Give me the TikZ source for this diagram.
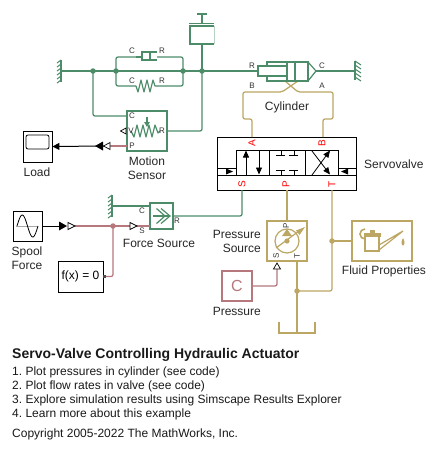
\documentclass[tikz,border=0pt]{standalone}
\usepackage{fontspec}
\setmainfont{Liberation Sans}
\usetikzlibrary{arrows.meta,calc,shadows}
\definecolor{mech}{RGB}{76,140,104}
\definecolor{hyd}{RGB}{188,166,100}
\definecolor{sig}{RGB}{182,120,124}
\definecolor{porttxt}{RGB}{50,50,50}
\frenchspacing
\tikzset{
  x=1pt,y=-1pt,
  mechline/.style={draw=mech,line width=1.25pt,rounded corners=2pt},
  hydline/.style={draw=hyd,line width=1.25pt,rounded corners=2pt},
  sigline/.style={draw=sig,line width=1.25pt,rounded corners=2pt},
  mechbox/.style={draw=mech,line width=1.4pt,fill=white,inner sep=0pt},
  hydbox/.style={draw=hyd,line width=1.4pt,fill=white,inner sep=0pt},
  sigbox/.style={draw=sig,line width=1.4pt,fill=white,inner sep=0pt},
  blockbox/.style={draw=black,line width=.9pt,fill=white,inner sep=0pt,
    drop shadow={shadow xshift=1.2pt,shadow yshift=-1.2pt,opacity=.35,fill=black}},
  lab/.style={font=\fontsize{12}{13}\selectfont,text=black!85,inner sep=0pt,align=center},
  plab/.style={font=\fontsize{8}{9}\selectfont,text=porttxt,inner sep=0pt},
  redlab/.style={font=\fontsize{10}{11}\selectfont,text=red,inner sep=0pt,rotate=90},
  capt/.style={font=\fontsize{12}{13}\selectfont,text=black!90,inner sep=0pt,anchor=west},
  dotm/.style={circle,fill=mech,inner sep=0pt,minimum size=5.5pt},
  doth/.style={circle,fill=hyd,inner sep=0pt,minimum size=5.5pt},
  dots/.style={circle,fill=sig,inner sep=0pt,minimum size=5.5pt},
  sym/.style={draw=mech,line width=1.2pt},
  hsym/.style={draw=hyd,line width=1.2pt},
  bsym/.style={draw=black,line width=.8pt},
}
\begin{document}
\begin{tikzpicture}
\useasboundingbox (0,0) rectangle (437,453);
% ---- free points
\coordinate (wallL) at (61,71);
\coordinate (wallR) at (355,71);
\coordinate (wallF) at (112,206);
\coordinate (cylR) at (258,71);
\coordinate (cylC) at (316,71);
\coordinate (tank) at (297,333);
% ---- blocks
\node[mechbox,minimum width=40pt,minimum height=40pt] (sensor) at (147,131) {};
\node[mechbox,minimum width=23pt,minimum height=26pt] (force) at (161.5,216) {};
\node[blockbox,minimum width=29pt,minimum height=31pt] (load) at (37.5,146.5) {};
\node[blockbox,minimum width=29pt,minimum height=30pt] (spool) at (27.5,226) {};
\node[blockbox,minimum width=45pt,minimum height=31pt,font=\fontsize{12}{13}\selectfont] (fx) at (80.5,276.5) {f(x) = 0};
\node[draw=black,line width=.9pt,fill=white,inner sep=0pt,minimum width=139pt,minimum height=53pt] (valve) at (286.5,163.5) {};
\node[hydbox,minimum width=40pt,minimum height=40pt] (psrc) at (287,241) {};
\node[hydbox,minimum width=60pt,minimum height=40pt] (fluid) at (382,241) {};
\node[sigbox,minimum width=30pt,minimum height=30pt,font=\fontsize{16}{17}\selectfont,text=sig] (pconst) at (237,286) {C};
% ---- mechanical connectors
\coordinate (j1) at (93,71);
\coordinate (j2) at (116,71);
\coordinate (j3) at (183,71);
\coordinate (j4) at (202,71);
\coordinate (j5) at (113,226);
\coordinate (j6) at (332,241);
\coordinate (j7) at (297,291);
\draw[mechline] (wallL) -- (cylR);
\draw[mechline] (j2) |- (136,57);
\draw[mechline] (j2) |- (136,86);
\draw[mechline] (j3) |- (157,57);
\draw[mechline] (j3) |- (157,86);
\draw[mechline] (j1) |- (sensor.west |- 0,116);
\draw[mechline] (sensor.east) -| (j4);
\draw[mechline] (cylC) -- (wallR);
\draw[mechline] (wallF) -- (force.west |- wallF);
\draw[mechline] (force.east) -| (242,190);
% ---- hydraulic connectors
\draw[hydline] (252,137) -- (252,119) -| (243,92) -- (282,92) -- (298,81);
\draw[hydline] (323,137) -- (323,119) -| (333,92) -- (298,92) -- (285,81);
\draw[hydline] (287,190) -- (psrc.north);
\draw[hydline] (332,190) -- (332,291) -- (j7);
\draw[hydline] (j6) -- (fluid.west);
\draw[hydline] (297,261) -- (tank);
% ---- signal connectors
\draw[sigline] (75,226) -- (150,226);
\draw[sigline] (fx.east) -| (j5);
\draw[sigline] (pconst.east) -| (277,269);
\draw[sigline] (110,146) -- (127,146);
\draw[draw=black,line width=1pt,-{Triangle[length=7pt,width=7pt]}] (104,146) -- (load.east);
\draw[draw=black,line width=1pt] (spool.east) -- (60,226);
% ---- junction dots
\node[dotm] (d1) at (j1) {};
\node[dotm] (d2) at (j2) {};
\node[dotm] (d3) at (j3) {};
\node[dotm] (d4) at (j4) {};
\node[dots] (d5) at (j5) {};
\node[doth] (d6) at (j6) {};
\node[doth] (d7) at (j7) {};
% ---- black arrowheads and open ports
\fill (95,146) -- (103,141.5) -- (103,150.5) -- cycle;
\fill (67,226) -- (59,221.5) -- (59,230.5) -- cycle;
\draw[black,fill=white,line width=.7pt] (103.5,146) -- (110,142.5) -- (110,149.5) -- cycle;
\draw[black,fill=white,line width=.7pt] (75,226) -- (68,222.5) -- (68,229.5) -- cycle;
\draw[black,fill=white,line width=.7pt] (137,226) -- (130,222.5) -- (130,229.5) -- cycle;
\draw[black,fill=white,line width=.7pt] (120.5,131) -- (126,128) -- (126,134) -- cycle;
\draw[black,fill=white,line width=.7pt] (277,263) -- (273.5,269) -- (280.5,269) -- cycle;
\fill[black!70] (103,275) rectangle (105.5,278);
% ---- walls
\draw[sym] (61,60) -- (61,82);
\foreach \y in {60,64,...,80} \draw[mech,line width=1pt] (61,\y) -- (57,\y+3);
\draw[sym] (355,61) -- (355,80);
\foreach \y in {61,65,...,77} \draw[mech,line width=1pt] (355,\y) -- (361,\y+4);
\draw[sym] (112,195) -- (112,217);
\foreach \y in {195,199,...,215} \draw[mech,line width=1pt] (112,\y) -- (108,\y+3);
% ---- damper, spring
\draw[sym] (136,57) -- (142,57);
\draw[sym,fill=white] (142,52) rectangle (150,60);
\draw[sym] (157,52) -- (150,52) -- (150,60) -- (157,60);
\draw[sym,line join=round] (136,86) -- (138,92) -- (141,80) -- (144,92) -- (147,80) -- (150,92) -- (153,80) -- (155,86) -- (157,86);
% ---- mass
\draw[sym] (197,14) -- (207,14);
\draw[sym] (202,14) -- (202,23.5);
\draw[sym] (189,23.5) -- (214,23.5);
\draw[sym] (214,26) -- (190,26) -- (190,44) -- (214,44);
\draw[mech!40,line width=.8pt] (214,26) -- (214,44);
\draw[mechline] (202,44) -- (j4);
% ---- cylinder
\draw[sym,fill=white] (267,62) rectangle (308,81);
\draw[sym,fill=white] (258,66) rectangle (287,76);
\draw[sym] (287,62) -- (287,81);
\draw[sym] (295,62) -- (295,81);
\draw[sym] (308,62) -- (316,71) -- (308,81);
% ---- motion sensor icon
\draw[sym,line join=round] (131,131) -- (134,137) -- (137,125) -- (140,137) -- (143,125) -- (146,137) -- (149,125) -- (152,137) -- (155,125) -- (158,133) -- (160,131);
\draw[mech,line width=1.2pt,-{Triangle[length=5pt,width=5.5pt]}] (147,117) -- (147,127);
% ---- force source icon
\draw[sym] (153,216) -- (169,216);
\draw[sym] (161,208.5) -- (170,216) -- (161,223.5);
\draw[sym] (156.5,208.5) -- (165,216) -- (156.5,223.5);
% ---- scope and sine icons
\draw[black,line width=.8pt,rounded corners=2pt] (26,135) rectangle (49,149);
\draw[black!35,line width=.8pt] (16,226) -- (38,226);
\draw[black,line width=.8pt,smooth,domain=0:1,samples=30] plot ({17+21*\x},{226-11*sin(360*\x)});
% ---- valve internals
\draw[bsym] (217,175) -- (356,175);
\draw[bsym] (236,175) -- (236,150) -- (338,150) -- (338,175);
\draw[bsym] (269,150) -- (269,175);
\draw[bsym] (305,150) -- (305,175);
\draw[bsym] (217,168) -- (236,168);
\draw[bsym] (338,168) -- (356,168);
\fill (226,168.5) -- (233,171.5) -- (226,174.5) -- cycle;
\fill (348,168.5) -- (341,171.5) -- (348,174.5) -- cycle;
\draw[bsym,-{Triangle[length=7pt,width=6pt]}] (246,175) -- (246,150.5);
\draw[bsym,-{Triangle[length=7pt,width=6pt]}] (259,150) -- (259,174.5);
\draw[bsym] (281,150) -- (281,155) (276,155) -- (285,155);
\draw[bsym] (294,150) -- (294,155) (289,155) -- (298,155);
\draw[bsym] (281,175) -- (281,170.5) (276,170.5) -- (285,170.5);
\draw[bsym] (294,175) -- (294,170.5) (289,170.5) -- (298,170.5);
\draw[bsym,-{Triangle[length=7pt,width=6pt]}] (312,175) -- (330,150.5);
\draw[bsym,-{Triangle[length=7pt,width=6pt]}] (312,151) -- (330,174.5);
% ---- pump icon
\draw[hsym] (287,241) circle (12);
\fill[hyd] (287,229) -- (282,236) -- (292,236) -- cycle;
\draw[hsym] (276,248) -- (299,231);
\fill[hyd] (305,227) -- (296,230.5) -- (299.5,235) -- cycle;
\fill[hyd] (287,241) circle (2.6);
% ---- oil can icon
\draw[hsym] (365,236) rectangle (379,251);
\fill[hyd] (364,233) rectangle (381,236.5);
\fill[hyd] (370,230) rectangle (375,233);
\draw[hyd,line width=1.6pt] (365,239) arc[start angle=90,end angle=270,radius=5];
\draw[hsym] (379,245) -- (403,231) -- (379,250);
\fill[hyd] (403,238) .. controls (405,241) and (405,245) .. (403,245.5) .. controls (401,245) and (401,241) .. (403,238) -- cycle;
% ---- tank
\draw[hsym] (279,322) -- (279,333) -- (315,333) -- (315,322);
% ---- port labels
\node[plab] (lc1) at (132,51) {C};
\node[plab] (lr1) at (162,51) {R};
\node[plab] (lc2) at (132,81) {C};
\node[plab] (lr2) at (162,81) {R};
\node[plab] (lc3) at (132,116) {C};
\node[plab] (lv3) at (131,131) {V};
\node[plab] (lr3) at (162,131) {R};
\node[plab] (lp3) at (132,146) {P};
\node[plab] (lr4) at (252,66) {R};
\node[plab] (lc4) at (322,66) {C};
\node[plab] (lb4) at (252,86) {B};
\node[plab] (la4) at (322,86) {A};
\node[plab] (lc5) at (142,211) {C};
\node[plab] (ls5) at (142,231) {S};
\node[plab] (lr5) at (177,221) {R};
\node[plab,rotate=90] (lp6) at (286,225.5) {P};
\node[plab,rotate=90] (ls6) at (276,256) {S};
\node[plab,rotate=90] (lt6) at (297,256) {T};
\node[redlab] (va) at (252,143) {A};
\node[redlab] (vb) at (322,143) {B};
\node[redlab] (vs) at (242,184) {S};
\node[redlab] (vp) at (286,184) {P};
\node[redlab] (vt) at (332,184) {T};
% ---- block labels
\node[lab] (tcyl) at (287,107) {Cylinder};
\node[lab,anchor=west] (tservo) at (364,164) {Servovalve};
\node[lab] (tmot) at (147,168) {Motion\\[1pt]Sensor};
\node[lab] (tload) at (37,172) {Load};
\node[lab] (tfs) at (159,243) {Force Source};
\node[lab] (tsp) at (27,258) {Spool\\[1pt]Force};
\node[lab,align=right,anchor=east] (tps) at (261,241) {Pressure\\[1pt]Source};
\node[lab,anchor=east] (tpr) at (261,311) {Pressure};
\node[lab] (tfl) at (384,271) {Fluid Properties};
% ---- caption
\node[capt,font=\fontsize{14}{15}\selectfont\bfseries] (t0) at (12,355) {Servo-Valve Controlling Hydraulic Actuator};
\node[capt] (t1) at (12,372) {1. Plot pressures in cylinder (see code)};
\node[capt] (t2) at (12,386) {2. Plot flow rates in valve (see code)};
\node[capt] (t3) at (12,400) {3. Explore simulation results using Simscape Results Explorer};
\node[capt] (t4) at (12,414) {4. Learn more about this example};
\node[capt] (t5) at (12,434) {Copyright 2005-2022 The MathWorks, Inc.};
\end{tikzpicture}
\end{document}
